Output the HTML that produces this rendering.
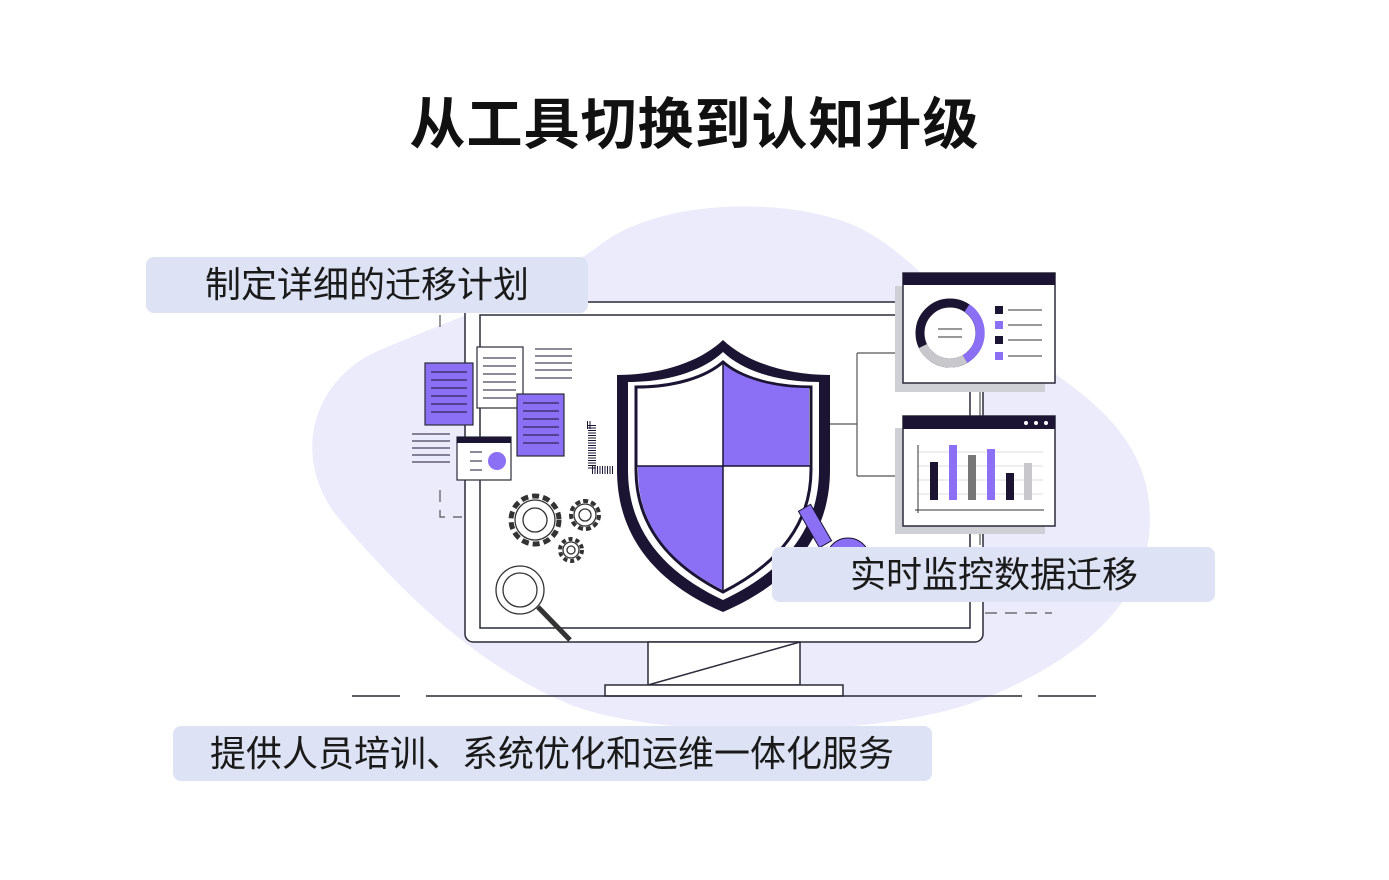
<!DOCTYPE html>
<html><head><meta charset="utf-8"><style>
body{margin:0;background:#fff;width:1389px;height:880px;overflow:hidden;position:relative;font-family:"Liberation Sans","Noto Sans CJK SC",sans-serif}
.t{position:absolute;left:0;width:1389px;top:80px;text-align:center;font-size:56px;font-weight:700;color:#111;letter-spacing:1px}
.b{position:absolute;background:#dde3f4;border-radius:8px;font-size:36px;color:#1a1a1a;line-height:56px;box-sizing:border-box;white-space:nowrap}
</style></head><body>
<svg width="1389" height="880" style="position:absolute;left:0;top:0">
<path d="M600 245 C650 205 760 195 840 220 C900 240 930 290 990 330 C1060 380 1150 420 1150 520 C1150 610 1060 670 980 700 C880 740 640 740 560 700 C470 660 400 590 340 520 C290 460 310 380 380 350 C450 320 540 290 600 245 Z" fill="#ecebfc"/>
<g stroke="#2b2b3a" stroke-width="1.5" fill="#fff">
<rect x="465" y="302" width="518" height="340" rx="8"/>
<rect x="480" y="315" width="490" height="313"/>
<rect x="648" y="642" width="152" height="43"/>
<line x1="648" y1="685" x2="800" y2="642"/>
<rect x="605" y="685" width="238" height="11"/>
</g>
<g stroke="#2b2b3a" stroke-width="1.5">
<line x1="352" y1="696" x2="400" y2="696"/><line x1="426" y1="696" x2="1022" y2="696"/><line x1="1038" y1="696" x2="1096" y2="696"/>
</g>
<g stroke="#555" stroke-width="1.2" fill="none" stroke-dasharray="12 8">
<path d="M440 315 V335"/><path d="M440 490 V517 H462"/><path d="M985 613 H1052"/>
</g>
<g stroke="#555" stroke-width="1.2" fill="none">
<path d="M830 424 H857 M857 353 V476 M857 353 H903 M857 476 H903 M980 383 V416 M980 526 V545"/>
</g>
<!-- shield -->
<path d="M723 340 C700 362 660 375 617 375 L617 470 C617 540 660 585 723 612 C786 585 830 540 830 470 L830 375 C786 375 746 362 723 340Z" fill="#1b1533"/>
<path d="M723 352 C704 370 670 382 628 382 L628 470 C628 534 668 574 723 600 C778 574 819 534 819 470 L819 382 C776 382 742 370 723 352Z" fill="#fff"/>
<path d="M723 362 C706 377 675 387 636 387 L636 470 C636 528 672 566 723 592 C774 566 811 528 811 470 L811 387 C771 387 740 377 723 362Z" fill="#fff" stroke="#1b1533" stroke-width="3"/>
<path d="M723 364 C740 378 771 388 809 388 L809 466 L723 466Z" fill="#8b6ff5"/>
<path d="M638 466 L723 466 L723 590 C675 566 638 530 638 470Z" fill="#8b6ff5"/>
<line x1="723" y1="364" x2="723" y2="592" stroke="#1b1533" stroke-width="1.5"/>
<line x1="637" y1="466" x2="810" y2="466" stroke="#1b1533" stroke-width="1.5"/>
<!-- key -->
<g fill="#8b6ff5" stroke="#1b1533" stroke-width="1"><rect x="808" y="505" width="14" height="42" transform="rotate(-30 815 526)"/><circle cx="848" cy="560" r="22"/></g>
<!-- panels -->
<rect x="895" y="286" width="150" height="106" fill="#cfcfd6"/>
<rect x="903" y="273" width="152" height="110" fill="#fff" stroke="#2b2b3a" stroke-width="1.5"/>
<rect x="903" y="273" width="152" height="12" fill="#1b1533"/>
<circle cx="950" cy="333" r="30" fill="none" stroke="#1b1533" stroke-width="9"/>
<path d="M967 308 A30 30 0 0 1 965 359" fill="none" stroke="#8b6ff5" stroke-width="9"/>
<path d="M965 359 A30 30 0 0 1 923 346" fill="none" stroke="#c8c8cc" stroke-width="9"/>
<g stroke="#333" stroke-width="1"><line x1="938" y1="329" x2="962" y2="329"/><line x1="938" y1="337" x2="962" y2="337"/>
<line x1="1008" y1="310" x2="1042" y2="310"/><line x1="1008" y1="325" x2="1042" y2="325"/><line x1="1008" y1="340" x2="1042" y2="340"/><line x1="1008" y1="356" x2="1042" y2="356"/></g>
<rect x="995" y="306" width="8" height="8" fill="#1b1533"/><rect x="995" y="321" width="8" height="8" fill="#8b6ff5"/><rect x="995" y="336" width="8" height="8" fill="#1b1533"/><rect x="995" y="352" width="8" height="8" fill="#8b6ff5"/>
<rect x="895" y="428" width="150" height="106" fill="#cfcfd6"/>
<rect x="903" y="416" width="152" height="110" fill="#fff" stroke="#2b2b3a" stroke-width="1.5"/>
<rect x="903" y="416" width="152" height="13" fill="#1b1533"/>
<g fill="#fff"><circle cx="1026" cy="423" r="2"/><circle cx="1036" cy="423" r="2"/><circle cx="1046" cy="423" r="2"/></g>
<g stroke="#ddd"><line x1="918" y1="452" x2="1043" y2="452"/><line x1="918" y1="466" x2="1043" y2="466"/><line x1="918" y1="480" x2="1043" y2="480"/><line x1="918" y1="494" x2="1043" y2="494"/></g>
<line x1="915" y1="510" x2="1044" y2="510" stroke="#333"/><line x1="918" y1="445" x2="918" y2="513" stroke="#333"/>
<rect x="930" y="462" width="8" height="38" fill="#1b1533"/><rect x="949" y="445" width="8" height="55" fill="#8b6ff5"/><rect x="968" y="455" width="8" height="45" fill="#777"/><rect x="987" y="449" width="8" height="51" fill="#8b6ff5"/><rect x="1006" y="473" width="8" height="27" fill="#1b1533"/><rect x="1024" y="463" width="8" height="37" fill="#c8c8cc"/>
<!-- docs -->
<g stroke="#2b2b3a" stroke-width="1.2">
<rect x="425" y="363" width="48" height="62" fill="#8b6ff5"/>
<rect x="477" y="347" width="46" height="61" fill="#fff"/>
<rect x="517" y="394" width="47" height="62" fill="#8b6ff5"/>
<rect x="457" y="437" width="54" height="43" fill="#fff"/>
</g>
<rect x="457" y="437" width="54" height="6" fill="#1b1533"/>
<circle cx="497" cy="461" r="9" fill="#8b6ff5"/>
<g stroke="#1b1533" stroke-width="1" fill="none">
<path d="M431 372h36M431 380h36M431 388h36M431 396h36M431 404h36M431 412h36"/>
<path d="M523 403h36M523 411h36M523 419h36M523 427h36M523 435h36M523 443h36"/>
<path d="M483 358h33M483 366h33M483 374h33M483 382h33M483 390h33M483 398h33"/>
<path d="M535 349h37M535 356h37M535 363h37M535 370h37M535 378h37"/>
<path d="M412 434h38M412 441h38M412 448h38M412 455h38M412 462h38"/>
<path d="M470 452h12M470 461h12M470 470h12"/>
</g>
<g stroke="#1b1533" stroke-width="8" fill="none" stroke-dasharray="1 1.5"><path d="M587 425h5v45h22"/></g>
<g stroke="#333" fill="none" stroke-width="1.3">
<circle cx="535" cy="520" r="24" stroke-dasharray="7 4" stroke-width="5"/><circle cx="535" cy="520" r="20" fill="#fff"/><circle cx="535" cy="520" r="12"/>
<circle cx="585" cy="515" r="14" stroke-dasharray="5 3" stroke-width="4"/><circle cx="585" cy="515" r="11" fill="#fff"/><circle cx="585" cy="515" r="6"/>
<circle cx="571" cy="550" r="11" stroke-dasharray="4 3" stroke-width="4"/><circle cx="571" cy="550" r="8" fill="#fff"/><circle cx="571" cy="550" r="4"/>
<circle cx="520" cy="590" r="24" fill="#fff"/><circle cx="520" cy="590" r="17"/><path d="M538 607 L570 640" stroke-width="5"/>
</g>
</svg>
<div class="t">从工具切换到认知升级</div>
<div class="b" style="left:146px;top:257px;width:442px;height:56px;padding-left:205px;padding-left:59px">制定详细的迁移计划</div>
<div class="b" style="left:772px;top:547px;width:443px;height:55px;padding-left:78px">实时监控数据迁移</div>
<div class="b" style="left:173px;top:726px;width:759px;height:55px;padding-left:37px">提供人员培训、系统优化和运维一体化服务</div>
</body></html>
